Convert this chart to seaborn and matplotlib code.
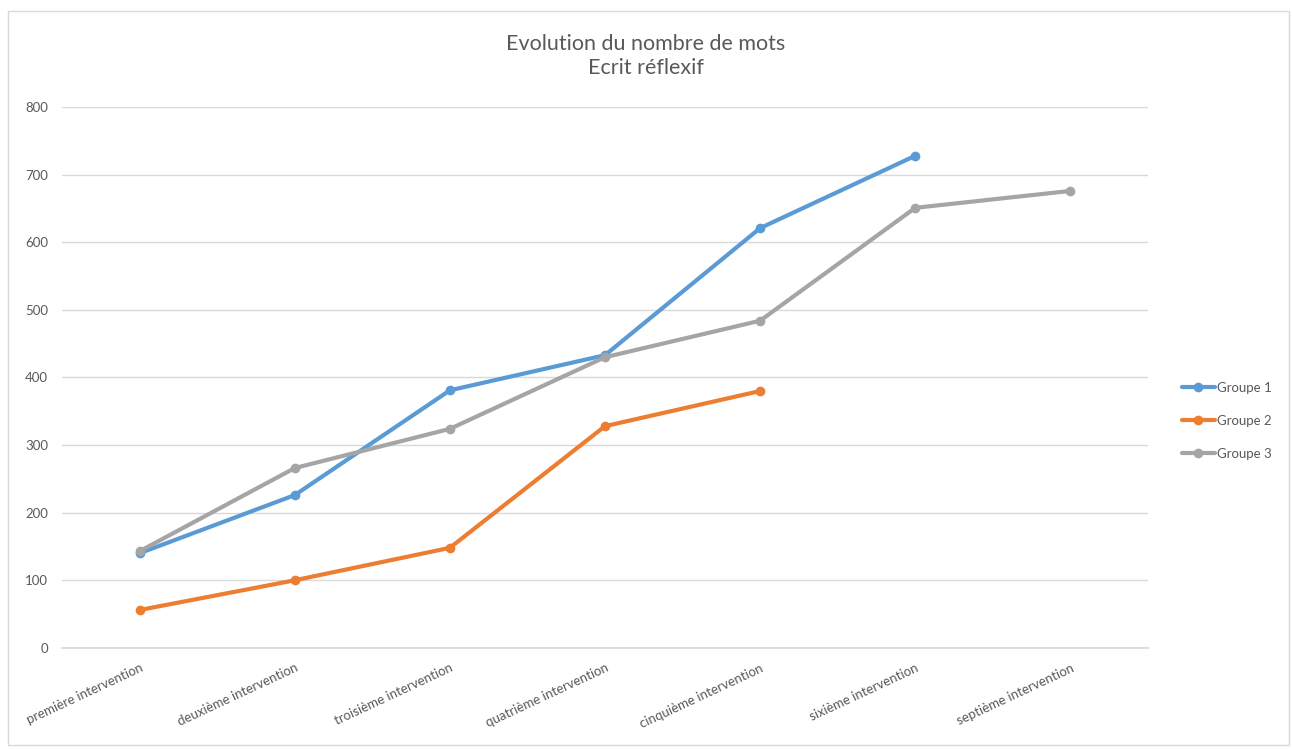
import pandas as pd
import matplotlib.pyplot as plt
import seaborn as sns
from matplotlib.patches import Rectangle

# data
categories = ["première intervention", "deuxième intervention", "troisième intervention",
              "quatrième intervention", "cinquième intervention", "sixième intervention",
              "septième intervention"]
groupe1 = [140, 226, 381, 433, 621, 728]
groupe2 = [56, 100, 148, 328, 380]
groupe3 = [143, 266, 324, 430, 484, 651, 676]

rows = []
for name, vals in [("Groupe 1", groupe1), ("Groupe 2", groupe2), ("Groupe 3", groupe3)]:
    for cat, v in zip(categories, vals):
        rows.append({"Intervention": cat, "Mots": v, "Groupe": name})
df = pd.DataFrame(rows)

sns.set_theme(style="white")
plt.rcParams['font.family'] = ['Lato', 'DejaVu Sans']

fig = plt.figure(figsize=(12.92, 7.49), dpi=100)
ax = fig.add_axes([0.048, 0.135, 0.8405, 0.722])

palette = {"Groupe 1": "#5B9BD5", "Groupe 2": "#ED7D31", "Groupe 3": "#A5A5A5"}
sns.lineplot(data=df, x="Intervention", y="Mots", hue="Groupe", palette=palette,
             marker="o", markersize=7, markeredgewidth=0, linewidth=3, sort=False, ax=ax)

ax.set_xlim(-0.5, len(categories) - 0.5)
ax.set_ylim(0, 800)
ax.set_yticks(range(0, 801, 100))
ax.set_xticks(range(len(categories)))
ax.set_xticklabels(categories, rotation=25, ha="right", rotation_mode="anchor")
ax.yaxis.grid(True, color="#D9D9D9", linewidth=1)
ax.tick_params(axis="both", labelsize=9.5, colors="#595959", length=0, pad=10)
for s in ["top", "right", "left"]:
    ax.spines[s].set_visible(False)
ax.spines["bottom"].set_color("#D9D9D9")
ax.set_xlabel("")
ax.set_ylabel("")

fig.text(0.5, 0.925, "Evolution du nombre de mots\nEcrit réflexif", ha="center", va="center",
         fontsize=15.5, color="#595959", linespacing=1.25)

leg = ax.legend(loc="center left", bbox_to_anchor=(1.02, 0.42), frameon=False, fontsize=9.5,
                handlelength=2.5, labelspacing=1.6, handletextpad=0.2)
for t in leg.get_texts():
    t.set_color("#595959")

fig.patches.append(Rectangle((0.006, 0.005), 0.992, 0.98, transform=fig.transFigure,
                             fill=False, edgecolor="#D9D9D9", linewidth=1))

plt.savefig("out.png", dpi=100)
